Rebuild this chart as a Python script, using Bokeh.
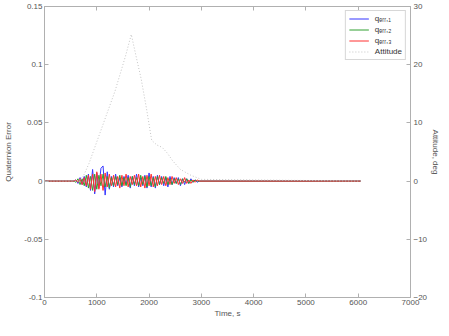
from bokeh.plotting import figure
from bokeh.models import (Range1d, LinearAxis, FixedTicker, Legend, LegendItem,
                          CustomJSTickFormatter, Title)
from bokeh.embed import file_html
from bokeh.resources import INLINE

# ---- data ----
t_err = [0] + list(range(560, 2961, 40)) + [6050]

q1 = [0.0,
      0.000, 0.001, -0.002, 0.003, -0.003, 0.004, -0.005, 0.006, -0.008, 0.010,
      -0.011, 0.007, -0.006, 0.011, 0.013, -0.012, 0.008, -0.007, 0.004, -0.005,
      0.006, -0.004, 0.003, -0.005, 0.004, -0.003, 0.005, -0.006, 0.004, -0.004,
      0.006, -0.005, 0.003, -0.004, 0.005, -0.006, 0.007, -0.005, 0.004, -0.006,
      0.005, -0.003, 0.004, -0.004, 0.003, -0.005, 0.004, -0.003, 0.003, -0.002,
      0.003, -0.004, 0.002, -0.003, 0.002, -0.002, 0.002, -0.001, 0.001, -0.001,
      0.000,
      0.0]
q2 = [0.0,
      0.000, -0.001, 0.002, -0.003, 0.002, -0.004, 0.005, -0.006, 0.004, -0.008,
      0.006, -0.007, 0.005, -0.004, 0.006, -0.005, 0.004, -0.006, 0.003, -0.004,
      0.004, -0.003, 0.005, -0.004, 0.003, -0.004, 0.003, -0.005, 0.004, -0.003,
      0.003, -0.004, 0.005, -0.003, 0.004, -0.005, 0.004, -0.004, 0.003, -0.005,
      0.004, -0.003, 0.003, -0.002, 0.004, -0.003, 0.002, -0.003, 0.002, -0.002,
      0.002, -0.003, 0.002, -0.001, 0.002, -0.002, 0.001, -0.001, 0.001, 0.000,
      0.000,
      0.0]
q3 = [0.0,
      0.000, 0.001, -0.001, 0.002, -0.003, 0.003, -0.004, 0.005, -0.007, 0.006,
      -0.009, 0.008, -0.007, 0.006, -0.008, 0.007, -0.005, 0.006, -0.004, 0.005,
      -0.005, 0.004, -0.006, 0.005, -0.004, 0.006, -0.005, 0.004, -0.003, 0.005,
      -0.004, 0.006, -0.005, 0.004, -0.006, 0.005, -0.004, 0.006, -0.005, 0.004,
      -0.004, 0.005, -0.003, 0.004, -0.004, 0.003, -0.003, 0.004, -0.002, 0.003,
      -0.003, 0.002, -0.002, 0.003, -0.002, 0.001, -0.002, 0.001, -0.001, 0.001,
      0.000,
      0.0]

t_att = [0, 650, 750, 850, 950, 1050, 1150, 1250, 1350, 1450, 1550, 1660,
         1750, 1850, 1950, 2050, 2150, 2250, 2350, 2450, 2600, 2800, 3000, 6050]
att = [0, 0, 1.0, 3.0, 5.5, 8.0, 10.5, 13.0, 15.5, 18.5, 21.5, 25.2,
       21.5, 17.5, 12.5, 7.0, 6.2, 5.8, 4.8, 3.5, 2.0, 1.0, 0.3, 0]

x_ticks = [0, 1000, 2000, 3000, 4000, 5000, 6000, 7000]
y_ticks = [-0.1, -0.05, 0, 0.05, 0.1, 0.15]
y_tick_labels = ["-0.1", "-0.05", "0", "0.05", "0.1", "0.15"]
y2_ticks = [-20, -10, 0, 10, 20, 30]

labels = ["q\u2091\u1d63\u1d63,\u2081", "q\u2091\u1d63\u1d63,\u2082",
          "q\u2091\u1d63\u1d63,\u2083", "Attitude"]

FONT = "Liberation Sans"
TXT = "#555555"
AX = "#b0b0b0"

p = figure(width=441, height=320, output_backend="svg", toolbar_location=None,
           x_range=Range1d(0, 7000), y_range=Range1d(-0.1, 0.15),
           min_border_left=44, min_border_top=6, min_border_right=0,
           min_border_bottom=0)
p.extra_y_ranges = {"att": Range1d(-20, 30)}
p.grid.visible = False
p.outline_line_color = AX

r1 = p.line(t_err, q1, color="#3535ff", line_width=1)
r2 = p.line(t_err, q2, color="#30a030", line_width=1)
r3 = p.line(t_err, q3, color="#ff3030", line_width=1)
r4 = p.line(t_att, att, color="#c4c4c4", line_width=1, line_dash="1 2",
            y_range_name="att")

def style(ax):
    ax.axis_line_color = AX
    ax.major_tick_line_color = AX
    ax.minor_tick_line_color = None
    ax.major_tick_in = 4
    ax.major_tick_out = 0
    ax.major_label_text_font = FONT
    ax.major_label_text_font_size = "8px"
    ax.major_label_text_color = TXT
    ax.axis_label_text_font = FONT
    ax.axis_label_text_font_size = "8px"
    ax.axis_label_text_font_style = "normal"
    ax.axis_label_text_color = TXT
    ax.axis_label_text_line_height = 0.9
    ax.major_label_standoff = 2
    ax.axis_label_standoff = 1

xa = p.xaxis[0]
xa.ticker = FixedTicker(ticks=x_ticks)
xa.axis_label = "Time, s"
style(xa)

ya = p.yaxis[0]
ya.ticker = FixedTicker(ticks=y_ticks)
ya.major_label_overrides = dict(zip(y_ticks, y_tick_labels))
ya.axis_label = "Quaternion Error"
style(ya)
ya.axis_label_standoff = 8

ry = LinearAxis(y_range_name="att", ticker=FixedTicker(ticks=y2_ticks))
style(ry)
ry.major_label_standoff = 3
p.add_layout(ry, "right")

# right-axis title
p.add_layout(Title(text="Attitude, deg", align="center", text_font=FONT,
                   text_font_size="8px", text_font_style="normal",
                   text_line_height=0.8,
                   text_color=TXT, standoff=0, offset=0), "right")

top = LinearAxis(ticker=FixedTicker(ticks=x_ticks),
                 formatter=CustomJSTickFormatter(code="return ''"))
style(top)
top.major_label_standoff = 0
p.add_layout(top, "above")

leg = Legend(items=[LegendItem(label=l, renderers=[r]) for l, r in
                    zip(labels, [r1, r2, r3, r4])],
             location="top_right")
leg.margin = 4
leg.padding = 3
leg.spacing = 2
leg.label_text_font = FONT
leg.label_text_font_size = "8px"
leg.label_text_color = "#333333"
leg.label_height = 9
leg.glyph_height = 9
leg.glyph_width = 20
leg.label_standoff = 6
leg.border_line_color = AX
leg.background_fill_color = "white"
p.add_layout(leg, "center")

open("out.html", "w").write(file_html(p, INLINE))
